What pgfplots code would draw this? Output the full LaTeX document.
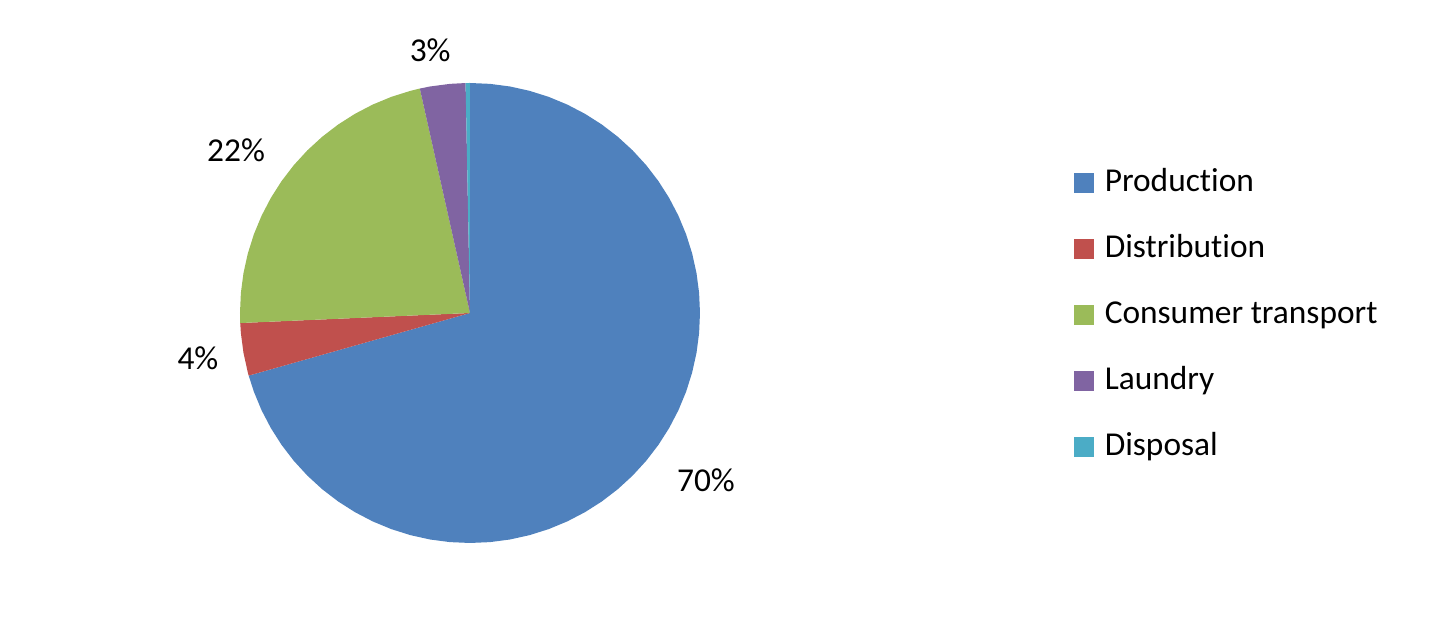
\documentclass[border=0pt]{standalone}
\usepackage{pgfplots}
\pgfplotsset{compat=1.18}
\usepgfplotslibrary{polar}
\usepackage{fontspec}
\setmainfont{Carlito}[Ligatures=NoCommon]
\definecolor{cProd}{HTML}{4F81BD}
\definecolor{cDist}{HTML}{C0504D}
\definecolor{cCons}{HTML}{9BBB59}
\definecolor{cLaun}{HTML}{8064A2}
\definecolor{cDisp}{HTML}{4BACC6}
\begin{document}
\begin{tikzpicture}[font=\fontsize{9.5}{11}\selectfont]
\path (0,0) rectangle (14.4,6.21);
\begin{polaraxis}[
    at={(4.7cm,3.08cm)}, anchor=center,
    scale only axis, width=4.6cm, height=4.6cm,
    xmin=0, xmax=360, ymin=0, ymax=1,
    hide axis, clip=false,
    legend cell align=left,
    legend style={draw=none, fill=none, inner sep=0pt,
      at={(1.811,0.820)}, anchor=north west,
      row sep=0.33cm,
      nodes={inner sep=0pt, text height=0.25cm, text depth=0.08cm},
      /tikz/every odd column/.append style={column sep=0.11cm}},
    legend image code/.code={\fill[#1] (0cm,-0.1cm) rectangle (0.2cm,0.1cm);},
  ]
  % Production 70.5 %
  \addplot[fill=cProd, draw=none] coordinates {
    (0,0) (195.8,1) (200,1) (205,1) (210,1) (215,1) (220,1) (225,1) (230,1)
    (235,1) (240,1) (245,1) (250,1) (255,1) (260,1) (265,1) (270,1) (275,1)
    (280,1) (285,1) (290,1) (295,1) (300,1) (305,1) (310,1) (315,1) (320,1)
    (325,1) (330,1) (335,1) (340,1) (345,1) (350,1) (355,1) (360,1) (5,1)
    (10,1) (15,1) (20,1) (25,1) (30,1) (35,1) (40,1) (45,1) (50,1) (55,1)
    (60,1) (65,1) (70,1) (75,1) (80,1) (85,1) (90,1) (0,0)};
  \addlegendentry{Production}
  % Distribution 3.8 %
  \addplot[fill=cDist, draw=none] coordinates {
    (0,0) (182.5,1) (185,1) (190,1) (195,1) (195.8,1) (0,0)};
  \addlegendentry{Distribution}
  % Consumer transport 22.2 %
  \addplot[fill=cCons, draw=none] coordinates {
    (0,0) (102.6,1) (105,1) (110,1) (115,1) (120,1) (125,1) (130,1) (135,1)
    (140,1) (145,1) (150,1) (155,1) (160,1) (165,1) (170,1) (175,1) (180,1)
    (182.5,1) (0,0)};
  \addlegendentry{Consumer transport}
  % Laundry 3.2 %
  \addplot[fill=cLaun, draw=none] coordinates {
    (0,0) (91.1,1) (95,1) (100,1) (102.6,1) (0,0)};
  \addlegendentry{Laundry}
  % Disposal 0.3 %
  \addplot[fill=cDisp, draw=none] coordinates {
    (0,0) (90,1) (91.1,1) (0,0)};
  \addlegendentry{Disposal}
  \node at (axis cs:98.6,1.157) {3\%};
  \node at (axis cs:145.1,1.24) {22\%};
  \node at (axis cs:189.4,1.199) {4\%};
  \node at (axis cs:-35.3,1.257) {70\%};
\end{polaraxis}
\end{tikzpicture}
\end{document}
